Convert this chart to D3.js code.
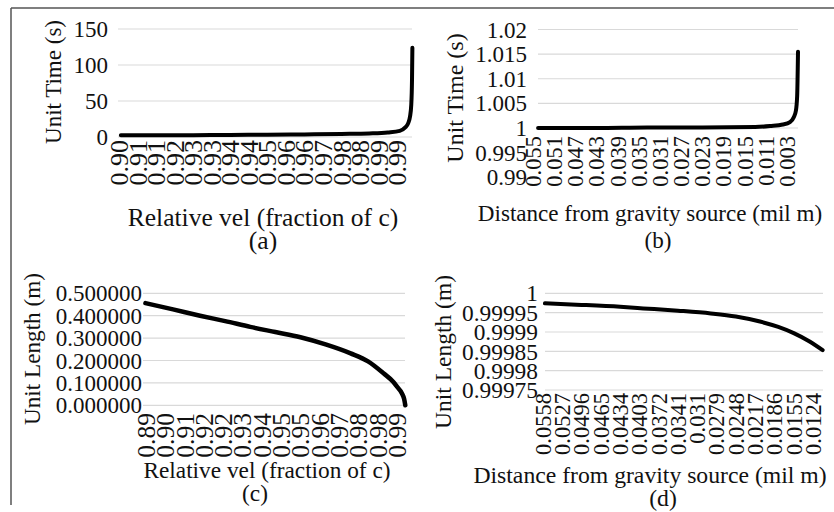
<!DOCTYPE html>
<html>
<head>
<meta charset="utf-8">
<script src="https://cdnjs.cloudflare.com/ajax/libs/d3/7.8.5/d3.min.js"></script>
<style>
  body { margin: 0; background: #fff; }
</style>
</head>
<body>
<div id="root"></div>
<script>
// (a) unit time vs relative velocity
const aLabels = ["0.90","0.91","0.91","0.92","0.93","0.93","0.94","0.94","0.95","0.96","0.96","0.97","0.98","0.98","0.99","0.99"];
const aPos = [0.1, 2, 4, 6, 8, 10, 12, 13.5, 14.5, 15.15, 15.43, 15.6, 15.7, 15.77, 15.81, 15.83];
const aTime = [2.3, 2.4, 2.6, 2.9, 3.2, 3.6, 4.3, 5.0, 6.3, 8.5, 13, 19, 28, 45, 80, 124];
const aTicks = [0, 50, 100, 150];

// (b) unit time vs distance from gravity source
const bLabels = ["0.055","0.051","0.047","0.043","0.039","0.035","0.031","0.027","0.023","0.019","0.015","0.011","0.003"];
const bPos = [0.24, 3, 5.4, 8, 10.5, 11.2, 11.8, 12.14, 12.32, 12.42, 12.48, 12.52];
const bTime = [1.0000, 1.0000, 1.0001, 1.0001, 1.0002, 1.0004, 1.0007, 1.0012, 1.0022, 1.0035, 1.0065, 1.0155];
const bTicks = [0.99, 0.995, 1, 1.005, 1.01, 1.015, 1.02];

// (c) unit length vs relative velocity
const cLabels = ["0.89","0.90","0.91","0.92","0.92","0.93","0.94","0.95","0.95","0.96","0.97","0.98","0.98","0.99"];
const cPos = [-0.03, 1.4, 2.8, 4.1, 5.4, 6.7, 8.0, 9.3, 10.6, 11.5, 12.3, 12.8, 13.0, 13.25, 13.37, 13.43];
const cLen = [0.456, 0.428, 0.400, 0.376, 0.350, 0.327, 0.304, 0.272, 0.232, 0.196, 0.143, 0.105, 0.083, 0.054, 0.028, 0.0];
const cTicks = [0, 0.1, 0.2, 0.3, 0.4, 0.5];

// (d) unit length vs distance from gravity source
const dLabels = ["0.0558","0.0527","0.0496","0.0465","0.0434","0.0403","0.0372","0.0341","0.031","0.0279","0.0248","0.0217","0.0186","0.0155","0.0124"];
const dPos = [0.1, 2, 4, 5.2, 7, 8.7, 10, 11.25, 12.2, 13, 13.8, 14.5];
const dLen = [0.999974, 0.999970, 0.999965, 0.999961, 0.999955, 0.999948, 0.999940, 0.999927, 0.999913, 0.999897, 0.999876, 0.999853];
const dTicks = [0.99975, 0.9998, 0.99985, 0.9999, 0.99995, 1];

var width = 834;
var height = 512;

var svg = d3
  .select("#root")
  .append("svg")
  .attr("width", width)
  .attr("height", height)
  .attr("font-family", "Liberation Serif")
  .attr("fill", "#111");

// outer frame
svg.append("line").attr("x1", 11).attr("x2", width).attr("y1", 8).attr("y2", 8)
  .attr("stroke", "#555").attr("stroke-width", 1.5);
svg.append("line").attr("x1", 11).attr("x2", 11).attr("y1", 8).attr("y2", 505)
  .attr("stroke", "#555").attr("stroke-width", 1.5);

function drawPanel(p) {
  var g = svg.append("g");

  // categories: label index -> pixel
  var xScale = d3.scaleLinear()
    .domain([0, p.labels.length - 1])
    .range([p.x0, p.x1]);
  var yScale = d3.scaleLinear().domain(p.yDomain).range(p.yRange);

  // gridlines
  g.selectAll(".grid")
    .data(p.grid)
    .enter()
    .append("line")
    .attr("x1", p.gx0)
    .attr("x2", p.gx1)
    .attr("y1", (d) => yScale(d))
    .attr("y2", (d) => yScale(d))
    .attr("stroke", "#d9d9d9")
    .attr("stroke-width", 1.2);

  // y tick labels
  g.selectAll(".ytick")
    .data(p.ticks)
    .enter()
    .append("text")
    .attr("x", p.yLabelX)
    .attr("y", (d) => yScale(d))
    .attr("dy", "0.35em")
    .attr("text-anchor", "end")
    .attr("font-size", p.yFont)
    .text((d) => p.fmt(d));

  // x tick labels, rotated
  g.selectAll(".xtick")
    .data(p.labels)
    .enter()
    .append("text")
    .attr("transform", (d, i) => "translate(" + xScale(i) + "," + p.xLabelTop + ") rotate(-90)")
    .attr("dy", "0.35em")
    .attr("text-anchor", "end")
    .attr("font-size", p.xFont)
    .text((d) => d);

  // the curve
  var line = d3.line()
    .x((d) => xScale(d[0]))
    .y((d) => yScale(d[1]))
    .curve(d3.curveMonotoneX);
  g.append("path")
    .datum(p.pos.map((v, i) => [v, p.vals[i]]))
    .attr("d", line)
    .attr("fill", "none")
    .attr("stroke", "#000")
    .attr("stroke-width", p.lineW)
    .attr("stroke-linejoin", "round")
    .attr("stroke-linecap", "round");

  // titles
  g.append("text")
    .attr("transform", "translate(" + p.yTitle[0] + "," + p.yTitle[1] + ") rotate(-90)")
    .attr("dy", "0.35em")
    .attr("text-anchor", "middle")
    .attr("font-size", p.yTitleFont)
    .text(p.yTitleText);
  g.append("text")
    .attr("x", p.xTitle[0])
    .attr("y", p.xTitle[1])
    .attr("dy", "0.35em")
    .attr("text-anchor", "middle")
    .attr("font-size", p.xTitleFont)
    .text(p.xTitleText);
  g.append("text")
    .attr("x", p.letter[0])
    .attr("y", p.letter[1])
    .attr("dy", "0.35em")
    .attr("text-anchor", "middle")
    .attr("font-size", p.xTitleFont)
    .text(p.letterText);
}

drawPanel({
  labels: aLabels, pos: aPos, vals: aTime, ticks: aTicks, grid: [0, 50, 100, 150],
  x0: 119, x1: 397, gx0: 118, gx1: 412,
  yDomain: [0, 150], yRange: [137, 29],
  yLabelX: 108, yFont: 23, fmt: (d) => d,
  xLabelTop: 140, xFont: 26, lineW: 4,
  yTitle: [53, 82], yTitleFont: 23, yTitleText: "Unit Time (s)",
  xTitle: [263, 217], xTitleFont: 25.5, xTitleText: "Relative vel (fraction of c)",
  letter: [263, 240], letterText: "(a)"
});

drawPanel({
  labels: bLabels, pos: bPos, vals: bTime, ticks: bTicks, grid: [1, 1.005, 1.01, 1.015, 1.02],
  x0: 533, x1: 787, gx0: 538, gx1: 798,
  yDomain: [1, 1.02], yRange: [128, 29.5],
  yLabelX: 527, yFont: 23, fmt: (d) => d,
  xLabelTop: 136, xFont: 22.5, lineW: 4,
  yTitle: [455, 98], yTitleFont: 24, yTitleText: "Unit Time (s)",
  xTitle: [650, 213], xTitleFont: 23.1, xTitleText: "Distance from gravity source (mil m)",
  letter: [658, 240], letterText: "(b)"
});

drawPanel({
  labels: cLabels, pos: cPos, vals: cLen, ticks: cTicks, grid: cTicks,
  x0: 146, x1: 397, gx0: 143, gx1: 405,
  yDomain: [0, 0.5], yRange: [405.3, 293.3],
  yLabelX: 142, yFont: 23, fmt: (d) => d.toFixed(6),
  xLabelTop: 413, xFont: 25.5, lineW: 4.5,
  yTitle: [32, 349], yTitleFont: 23.2, yTitleText: "Unit Length (m)",
  xTitle: [267, 470], xTitleFont: 23.3, xTitleText: "Relative vel (fraction of c)",
  letter: [255, 493], letterText: "(c)"
});

drawPanel({
  labels: dLabels, pos: dPos, vals: dLen, ticks: dTicks, grid: dTicks,
  x0: 543, x1: 813, gx0: 545, gx1: 823,
  yDomain: [0.99975, 1], yRange: [390, 293.3],
  yLabelX: 538, yFont: 23.4, fmt: (d) => +d.toFixed(5),
  xLabelTop: 393, xFont: 22.5, lineW: 4,
  yTitle: [443, 352], yTitleFont: 23.5, yTitleText: "Unit Length (m)",
  xTitle: [650, 475], xTitleFont: 23.7, xTitleText: "Distance from gravity source (mil m)",
  letter: [663, 498], letterText: "(d)"
});
</script>
</body>
</html>
